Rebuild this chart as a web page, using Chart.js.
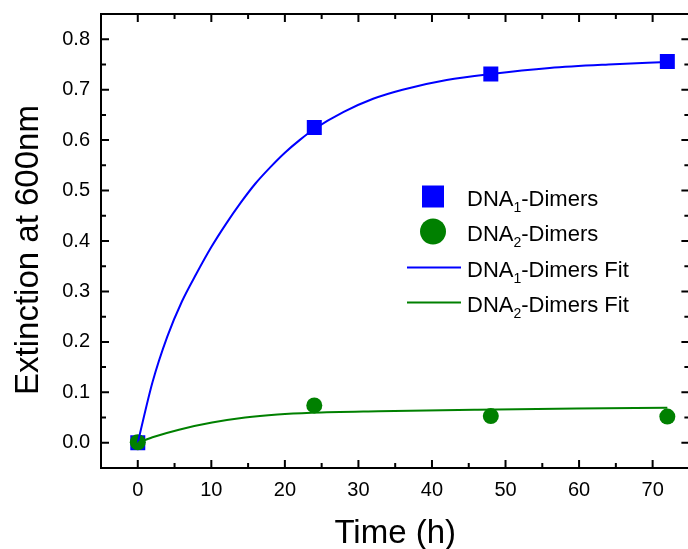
<!DOCTYPE html>
<html>
<head>
<meta charset="utf-8">
<script src="https://cdn.jsdelivr.net/npm/chart.js@4"></script>
<style>
  html, body { margin: 0; padding: 0; background: #fff; overflow: hidden; }
  #wrap { width: 700px; height: 549px; }
</style>
</head>
<body>
<div id="wrap"><canvas id="chart" width="700" height="549"></canvas></div>
<script>
// ── Data ─────────────────────────────────────────────────────────────────
const times = [0, 24, 48, 72];
const dna1  = [0.000, 0.625, 0.731, 0.756];
const dna2  = [0.001, 0.074, 0.053, 0.052];

// fitted curves, sampled along the drawn lines
const fit1T = [0, 2, 4, 6, 8, 10, 12, 14, 16, 18, 20, 22, 24, 28, 32, 36, 42, 48, 56, 64, 72];
const fit1V = [0, 0.120, 0.210, 0.280, 0.336, 0.388, 0.434, 0.476, 0.514, 0.546, 0.575, 0.600, 0.622, 0.656, 0.682, 0.700, 0.719, 0.731, 0.743, 0.750, 0.755];
const fit2T = [0, 2, 5.6, 10.1, 14.6, 19, 23.6, 32.7, 46.2, 59.7, 72];
const fit2V = [0, 0.011, 0.026, 0.040, 0.050, 0.056, 0.0595, 0.0625, 0.0655, 0.0678, 0.0694];

const xTicks = [0, 10, 20, 30, 40, 50, 60, 70];
const xMinor = [5, 15, 25, 35, 45, 55, 65];
const yTicks = [0, 0.1, 0.2, 0.3, 0.4, 0.5, 0.6, 0.7, 0.8];
const yMinor = [0.05, 0.15, 0.25, 0.35, 0.45, 0.55, 0.65, 0.75];

const xTitle = 'Time (h)';
const yTitle = 'Extinction at 600nm';

// legend text: [main, subscript, rest]
const legendText = [
  ['DNA', '1', '-Dimers'],
  ['DNA', '2', '-Dimers'],
  ['DNA', '1', '-Dimers Fit'],
  ['DNA', '2', '-Dimers Fit'],
];

const BLUE  = '#0000ff';
const GREEN = '#008000';
const FONT  = "'Liberation Sans', Arial, sans-serif";

const pts = (xs, ys) => xs.map((x, i) => ({ x, y: ys[i] }));

// ── Frame, inward ticks, axis titles and legend ──────────────────────────
const framePlugin = {
  id: 'frame',
  afterDraw(chart) {
    const { ctx, chartArea: a, scales: { x, y } } = chart;
    ctx.save();
    ctx.strokeStyle = '#000';
    ctx.lineWidth = 2;
    ctx.strokeRect(a.left, a.top, a.right - a.left, a.bottom - a.top);

    ctx.beginPath();
    const xt = (v, len) => {
      const p = x.getPixelForValue(v);
      ctx.moveTo(p, a.bottom); ctx.lineTo(p, a.bottom - len);
      ctx.moveTo(p, a.top);    ctx.lineTo(p, a.top + len);
    };
    const yt = (v, len) => {
      const p = y.getPixelForValue(v);
      ctx.moveTo(a.left, p);  ctx.lineTo(a.left + len, p);
      ctx.moveTo(a.right, p); ctx.lineTo(a.right - len, p);
    };
    xTicks.forEach(v => xt(v, 8));
    xMinor.forEach(v => xt(v, 5));
    yTicks.forEach(v => yt(v, 8));
    yMinor.forEach(v => yt(v, 5));
    ctx.stroke();

    // axis titles
    ctx.fillStyle = '#000';
    ctx.font = `33px ${FONT}`;
    ctx.textAlign = 'center';
    ctx.textBaseline = 'alphabetic';
    ctx.fillText(xTitle, (a.left + a.right) / 2, 543);
    ctx.save();
    ctx.translate(38, 250);
    ctx.rotate(-Math.PI / 2);
    ctx.fillText(yTitle, 0, 0);
    ctx.restore();

    // legend
    const mx = 433, tx = 467;
    const rows = [206, 241, 277, 312];
    ctx.textAlign = 'left';
    rows.forEach((base, i) => {
      const mid = base - 9.5;
      if (i === 0) {
        ctx.fillStyle = BLUE;
        ctx.fillRect(mx - 11, mid - 11, 22, 22);
      } else if (i === 1) {
        ctx.fillStyle = GREEN;
        ctx.beginPath(); ctx.arc(mx, mid, 13, 0, Math.PI * 2); ctx.fill();
      } else {
        ctx.strokeStyle = i === 2 ? BLUE : GREEN;
        ctx.lineWidth = 2;
        ctx.beginPath(); ctx.moveTo(407, mid); ctx.lineTo(461, mid); ctx.stroke();
      }
      const [main, sub, rest] = legendText[i];
      ctx.fillStyle = '#000';
      ctx.font = `22px ${FONT}`;
      let cx = tx;
      ctx.fillText(main, cx, base);
      cx += ctx.measureText(main).width;
      ctx.font = `14px ${FONT}`;
      ctx.fillText(sub, cx, base + 6);
      cx += ctx.measureText(sub).width;
      ctx.font = `22px ${FONT}`;
      ctx.fillText(rest, cx, base);
    });
    ctx.restore();
  },
};

new Chart(document.getElementById('chart'), {
  type: 'scatter',
  data: {
    datasets: [
      {
        label: 'DNA₁-Dimers',
        data: pts(times, dna1),
        pointStyle: 'rect',
        pointRadius: 10.6,
        backgroundColor: BLUE,
        borderColor: BLUE,
        borderWidth: 0,
        order: 4,
      },
      {
        label: 'DNA₂-Dimers',
        data: pts(times, dna2),
        pointStyle: 'circle',
        pointRadius: 8,
        backgroundColor: GREEN,
        borderColor: GREEN,
        borderWidth: 0,
        order: 3,
      },
      {
        label: 'DNA₁-Dimers Fit',
        data: pts(fit1T, fit1V),
        showLine: true,
        pointRadius: 0,
        borderColor: BLUE,
        borderWidth: 2,
        cubicInterpolationMode: 'monotone',
        order: 2,
      },
      {
        label: 'DNA₂-Dimers Fit',
        data: pts(fit2T, fit2V),
        showLine: true,
        pointRadius: 0,
        borderColor: GREEN,
        borderWidth: 2,
        cubicInterpolationMode: 'monotone',
        order: 1,
      },
    ],
  },
  options: {
    responsive: false,
    animation: false,
    layout: { padding: { left: 0, right: 7, top: 14, bottom: 0 } },
    plugins: {
      legend: { display: false },
      tooltip: { enabled: false },
    },
    scales: {
      x: {
        type: 'linear',
        min: -5,
        max: 75,
        border: { display: false },
        grid: { display: false, drawTicks: false },
        afterBuildTicks: s => { s.ticks = xTicks.map(v => ({ value: v })); },
        afterFit: s => { s.height = 81; s.paddingLeft = 0; s.paddingRight = 0; },
        ticks: {
          padding: 10,
          color: '#000',
          maxRotation: 0,
          font: { family: FONT, size: 20 },
          callback: v => String(v),
        },
      },
      y: {
        type: 'linear',
        min: -0.05,
        max: 0.85,
        border: { display: false },
        grid: { display: false, drawTicks: false },
        afterBuildTicks: s => { s.ticks = yTicks.map(v => ({ value: v })); },
        afterFit: s => { s.width = 101; s.paddingTop = 0; s.paddingBottom = 0; },
        ticks: {
          padding: 11,
          color: '#000',
          font: { family: FONT, size: 20 },
          callback: v => v.toFixed(1),
        },
      },
    },
  },
  plugins: [framePlugin],
});
</script>
</body>
</html>
